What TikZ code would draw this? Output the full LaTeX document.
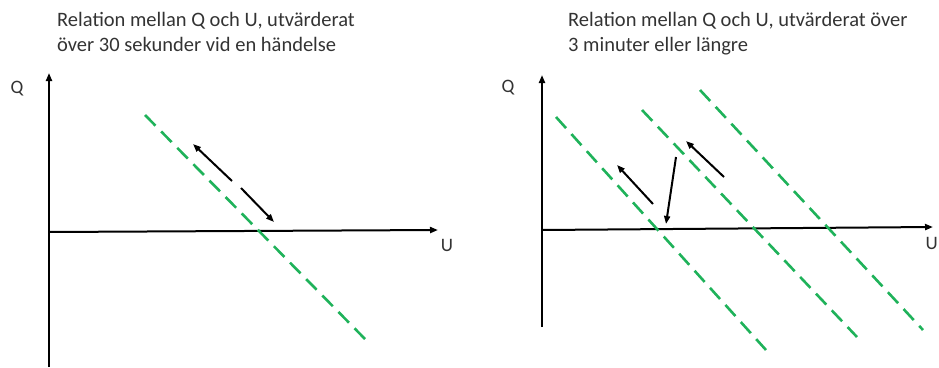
\documentclass[tikz,border=0pt]{standalone}
\usepackage{fontspec}
\setmainfont{Carlito}
\usetikzlibrary{arrows.meta}
\definecolor{CurveGreen}{HTML}{1FB25A}
\definecolor{InkGrey}{HTML}{333333}

\tikzset{
  axisline/.style={line width=2pt,-{Triangle[length=8pt,width=6pt]}},
  demandline/.style={CurveGreen,line width=2.6pt,dash pattern=on 15pt off 8pt},
  shiftarrow/.style={line width=2pt,-{Triangle[length=8pt,width=6pt]}},
  heading/.style={anchor=north west,inner sep=0pt,align=left,text=InkGrey,
    font=\fontsize{20.5}{25}\selectfont},
  axislabel/.style={text=InkGrey,inner sep=0pt,font=\fontsize{19}{19}\selectfont}
}

\begin{document}
\begin{tikzpicture}[x=1pt,y=-1pt]
  \useasboundingbox (0,0) rectangle (939,367);

  % short time scale: one line, movement along it
  \node[heading] (headshort) at (57,12)
    {Relation mellan Q och U, utvärderat\\över 30 sekunder vid en händelse};
  \node[axislabel] (qshort) at (17,89) {Q};
  \node[axislabel] (ushort) at (447,245) {U};
  \coordinate (yshortlow) at (49,367);
  \coordinate (yshorttop) at (49,73);
  \coordinate (xshortleft) at (49,232);
  \coordinate (xshortright) at (438,230);
  \draw[axisline] (yshortlow) -- (yshorttop);
  \draw[axisline] (xshortleft) -- (xshortright);
  \coordinate (lineshorttop) at (145,115);
  \coordinate (lineshortlow) at (366,340);
  \draw[demandline] (lineshorttop) -- (lineshortlow);
  \coordinate (upshortfrom) at (232,181);
  \coordinate (upshortto) at (193,144);
  \coordinate (downshortfrom) at (241,188);
  \coordinate (downshortto) at (274,222);
  \draw[shiftarrow] (upshortfrom) -- (upshortto);
  \draw[shiftarrow] (downshortfrom) -- (downshortto);

  % long time scale: the line itself shifts
  \node[heading] (headlong) at (568,12)
    {Relation mellan Q och U, utvärderat över\\3 minuter eller längre};
  \node[axislabel] (qlong) at (508,88) {Q};
  \node[axislabel,anchor=east] (ulong) at (938,243) {U};
  \coordinate (ylonglow) at (542,327);
  \coordinate (ylongtop) at (542,75);
  \coordinate (xlongleft) at (542,230);
  \coordinate (xlongright) at (933,227);
  \draw[axisline] (ylonglow) -- (ylongtop);
  \draw[axisline] (xlongleft) -- (xlongright);
  \foreach \k/\xa/\ya/\xb/\yb in {a/556/117/766/350,b/642/110/857/337,c/700/90/923/330} {
    \coordinate (line-\k-top) at (\xa,\ya);
    \coordinate (line-\k-low) at (\xb,\yb);
    \draw[demandline] (line-\k-top) -- (line-\k-low);
  }
  \coordinate (upafrom) at (653,204);
  \coordinate (upato) at (617,165);
  \coordinate (dropfrom) at (676,157);
  \coordinate (dropto) at (666,224);
  \coordinate (upbfrom) at (724,177);
  \coordinate (upbto) at (686,141);
  \draw[shiftarrow] (upafrom) -- (upato);
  \draw[shiftarrow] (dropfrom) -- (dropto);
  \draw[shiftarrow] (upbfrom) -- (upbto);
\end{tikzpicture}
\end{document}
